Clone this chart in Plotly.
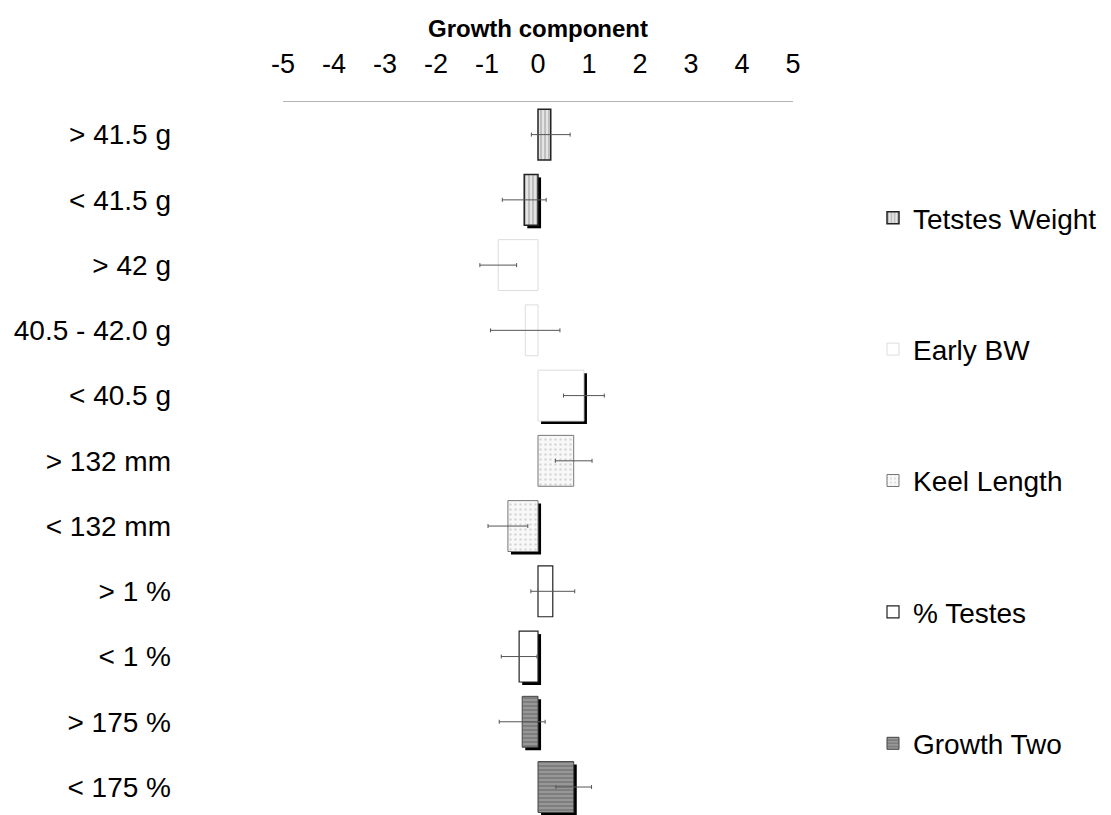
import plotly.graph_objects as go

# ---------------- data ----------------
categories = ["> 41.5 g", "< 41.5 g", "> 42 g", "40.5 - 42.0 g", "< 40.5 g",
              "> 132 mm", "< 132 mm", "> 1 %", "< 1 %", "> 175 %", "< 175 %"]
category_series = ["Tetstes Weight", "Tetstes Weight",
                   "Early BW", "Early BW", "Early BW",
                   "Keel Length", "Keel Length",
                   "% Testes", "% Testes",
                   "Growth Two", "Growth Two"]
values = [0.25, -0.27, -0.78, -0.25, 0.90, 0.70, -0.59, 0.29, -0.37, -0.31, 0.70]
errors = [0.38, 0.43, 0.36, 0.68, 0.40, 0.36, 0.39, 0.43, 0.35, 0.45, 0.35]
series_names = ["Tetstes Weight", "Early BW", "Keel Length", "% Testes", "Growth Two"]
x_ticks = [-5, -4, -3, -2, -1, 0, 1, 2, 3, 4, 5]
x_title = "Growth component"

# ---------------- styles ----------------
FONT = "Liberation Sans, Arial, sans-serif"
series_style = {
    "Tetstes Weight": dict(color="#e4e4e4", line=dict(color="#222", width=1.5),
                           pattern=dict(shape="|", fgcolor="#7a7a7a", bgcolor="#e4e4e4",
                                        size=4, solidity=0.35)),
    "Early BW": dict(color="white", line=dict(color="#dcdcdc", width=1)),
    "Keel Length": dict(color="#f6f6f6", line=dict(color="#777", width=1),
                        pattern=dict(shape=".", fgcolor="#b5b5b5", bgcolor="#f8f8f8",
                                     size=5, solidity=0.2)),
    "% Testes": dict(color="white", line=dict(color="#222", width=1.2)),
    "Growth Two": dict(color="#8c8c8c", line=dict(color="#444", width=1),
                       pattern=dict(shape="-", fgcolor="#c4c4c4", bgcolor="#7e7e7e",
                                    size=4, solidity=0.35)),
}
shadow_visible = [False, True, False, False, True, False, True, False, True, True, True]
BAR_W = 0.78
SH_DX = 0.06
SH_DY = 0.046

positions = list(range(len(categories)))

fig = go.Figure()

# drop shadows (drawn first, underneath)
fig.add_trace(go.Bar(
    orientation="h",
    y=[p + SH_DY for p in positions],
    x=values,
    base=SH_DX,
    width=BAR_W,
    marker=dict(color=["black" if s else "rgba(0,0,0,0)" for s in shadow_visible],
                line=dict(width=0)),
    showlegend=False,
    hoverinfo="skip",
))

for i, name in enumerate(series_names):
    idx = [k for k, s in enumerate(category_series) if s == name]
    fig.add_trace(go.Bar(
        orientation="h",
        name=name,
        legendgroup=f"g{i}",
        y=[positions[k] for k in idx],
        x=[values[k] for k in idx],
        width=BAR_W,
        marker=series_style[name],
        error_x=dict(type="data", array=[errors[k] for k in idx], symmetric=True,
                     color="#555", thickness=1, width=2),
    ))

fig.update_layout(
    width=1111, height=815,
    margin=dict(l=283, r=318, t=102, b=0),
    paper_bgcolor="white", plot_bgcolor="white",
    barmode="overlay",
    font=dict(family=FONT, color="black"),
    title=dict(text=f"<b>{x_title}</b>", x=0.5, xref="paper", xanchor="center",
               y=1 - 29 / 815, yref="container", yanchor="middle",
               font=dict(family=FONT, size=24, color="black")),
    legend=dict(x=(873 - 283) / 510, xref="paper", xanchor="left",
                y=1 + (102 - 193) / 713, yref="paper", yanchor="top",
                tracegroupgap=92, font=dict(family=FONT, size=28),
                bgcolor="rgba(0,0,0,0)", itemwidth=30),
    xaxis=dict(range=[-5, 5], side="top", tickvals=x_ticks,
               ticktext=[str(t) for t in x_ticks], ticks="",
               tickfont=dict(family=FONT, size=27), ticklabelstandoff=17,
               showgrid=False, zeroline=False, showline=True,
               linecolor="#b5b5b5", linewidth=1),
    yaxis=dict(range=[-0.5 + 713 / 65.24, -0.5], tickvals=positions,
               ticktext=categories, ticks="", tickfont=dict(family=FONT, size=28),
               ticklabelstandoff=111, showgrid=False, zeroline=False, showline=False),
)

fig.write_html("out.html")
